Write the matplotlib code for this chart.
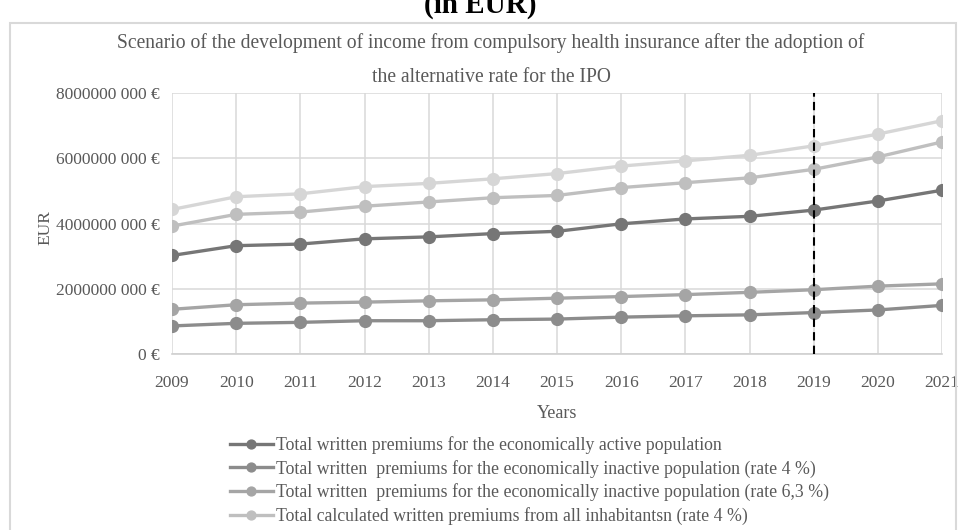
import numpy as np
import matplotlib
matplotlib.use('Agg')
import matplotlib.pyplot as plt
from matplotlib.patches import Rectangle
from matplotlib.ticker import FuncFormatter

# DATOS (EUR)
years = [2009, 2010, 2011, 2012, 2013, 2014, 2015, 2016, 2017, 2018, 2019, 2020, 2021]

active = [3.02, 3.32, 3.37, 3.53, 3.59, 3.69, 3.76, 3.99, 4.14, 4.22, 4.41, 4.69, 5.02]
inactive_4 = [0.86, 0.94, 0.97, 1.02, 1.02, 1.05, 1.07, 1.13, 1.17, 1.20, 1.27, 1.35, 1.49]
inactive_63 = [1.37, 1.51, 1.56, 1.59, 1.63, 1.66, 1.71, 1.76, 1.82, 1.89, 1.97, 2.08, 2.15]
total_4 = [3.92, 4.28, 4.35, 4.53, 4.66, 4.79, 4.86, 5.10, 5.25, 5.40, 5.66, 6.04, 6.50]
total_63 = [4.43, 4.82, 4.91, 5.13, 5.23, 5.37, 5.53, 5.76, 5.92, 6.09, 6.38, 6.74, 7.15]

labels = ['Total written premiums for the economically active population',
          'Total written  premiums for the economically inactive population (rate 4 %)',
          'Total written  premiums for the economically inactive population (rate 6,3 %)',
          'Total calculated written premiums from all inhabitantsn (rate 4 %)']

y_ticks = [0, 2e9, 4e9, 6e9, 8e9]
split_year = 2019

# GRAFICA
plt.rcParams['font.family'] = ['Liberation Serif', 'DejaVu Serif']
gris = '#595959'

fig = plt.figure(figsize=(9.6, 5.3), dpi=100)
fig.patch.set_facecolor('white')

# marco del area del grafico
fig.patches.append(Rectangle((10/960, -0.05), 946/960, 1.05 - 23/530,
                             transform=fig.transFigure, fill=False,
                             edgecolor='#d9d9d9', linewidth=1.5))

fig.text(0.5, 1 - 13/530, '(in EUR)', ha='center', va='baseline',
         fontsize=21, fontweight='bold', color='black')

fig.text(491/960, 1 - 43/530,
         'Scenario of the development of income from compulsory health insurance after the adoption of',
         ha='center', va='center', fontsize=14.1, color=gris)
fig.text(491/960, 1 - 77/530, 'the alternative rate for the IPO',
         ha='center', va='center', fontsize=14.1, color=gris)

ax = fig.add_axes([172/960, 1 - 354/530, 770/960, 261/530])

series = [(active, '#767676', labels[0]),
          (inactive_4, '#8c8c8c', labels[1]),
          (inactive_63, '#a5a5a5', labels[2]),
          (total_4, '#bfbfbf', labels[3])]

lineas = []
for datos, color, nombre in series:
    l, = ax.plot(years, np.array(datos) * 1e9, color=color, linewidth=2.4,
                 marker='o', markersize=8.5, label=nombre, zorder=3)
    lineas.append(l)
ax.plot(years, np.array(total_63) * 1e9, color='#d6d6d6', linewidth=2.4,
        marker='o', markersize=8.5, zorder=2.5)

ax.axvline(split_year, color='black', linestyle=(0, (4, 2.5)), linewidth=1.5, zorder=5)

ax.set_xlim(years[0], years[-1])
ax.set_ylim(0, 8e9)
ax.set_xticks(years)
ax.set_yticks(y_ticks)

def euros(v, pos):
    if v == 0:
        return '0 €'
    v = int(round(v))
    return f'{v // 1000} {v % 1000:03d} €'

ax.yaxis.set_major_formatter(FuncFormatter(euros))
ax.grid(True, color='#d9d9d9', linewidth=1.1)
ax.set_axisbelow(True)
for lado in ['top', 'right', 'left']:
    ax.spines[lado].set_visible(False)
ax.spines['bottom'].set_color('#d0d0d0')
ax.spines['bottom'].set_linewidth(1.2)
ax.tick_params(axis='both', length=0, labelsize=12.5, labelcolor=gris)
ax.tick_params(axis='x', pad=15)
ax.tick_params(axis='y', pad=9)

ax.set_xlabel('Years', fontsize=13, color=gris, labelpad=10)
fig.text(45/960, 1 - 228/530, 'EUR', rotation=90, ha='center', va='center',
         fontsize=12.5, color=gris)

fig.legend(handles=lineas, loc='upper left', bbox_to_anchor=(230/960, 1 - 436/530),
           frameon=False, fontsize=12.8, labelcolor=gris, markerscale=0.75,
           handlelength=2.4, handletextpad=0.2, labelspacing=0.33,
           borderpad=0, borderaxespad=0)

fig.savefig('out.png', dpi=100)
